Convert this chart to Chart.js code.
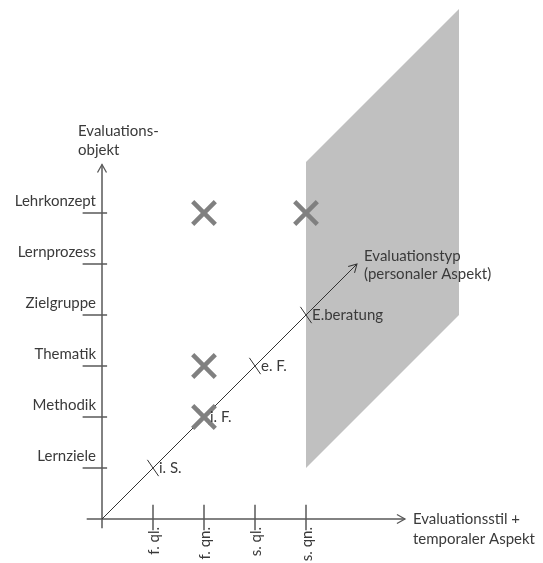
<!DOCTYPE html>
<html>
<head>
<meta charset="utf-8">
<title>Evaluationsraum</title>
<script src="https://cdn.jsdelivr.net/npm/chart.js@4"></script>
<style>
  html, body { margin: 0; padding: 0; background: #fff; }
  canvas { display: block; }
</style>
</head>
<body>
<canvas id="evalChart" width="543" height="563"></canvas>
<script>
// categories on the three axes (position = index + 1)
var objektLabels = ["Lernziele", "Methodik", "Thematik", "Zielgruppe", "Lernprozess", "Lehrkonzept"];
var stilLabels = ["f. ql.", "f. qn.", "s. ql.", "s. qn."];
var typLabels = ["i. S.", "i. F.", "e. F.", "E.beratung"];

// marked combinations (stil, objekt)
var markX = [2, 4, 2, 2];
var markY = [6, 6, 3, 2];

// grey plane at s. qn.
var planeX = [4, 4, 7, 7];
var planeY = [1, 7, 10, 4];

// axis ends
var xAxisEnd = 5.94;
var yAxisEnd = 6.95;
var typAxisEnd = 5;

var lineColor = "#595959";
var textColor = "#3a3a3a";
var font = "15px Lato";

function pts(xs, ys) {
  return xs.map(function (x, i) { return { x: x, y: ys[i] }; });
}

// ticks as short segments separated by gaps
var yTicks = [], xTicks = [], typTicks = [];
objektLabels.forEach(function (l, i) {
  var v = i + 1;
  yTicks.push({ x: -0.38, y: v }, { x: 0.1, y: v }, { x: null, y: null });
});
stilLabels.forEach(function (l, i) {
  var v = i + 1;
  xTicks.push({ x: v, y: 0.28 }, { x: v, y: -0.22 }, { x: null, y: null });
});
typLabels.forEach(function (l, i) {
  var v = i + 1;
  typTicks.push({ x: v - 0.11, y: v + 0.16 }, { x: v + 0.11, y: v - 0.16 }, { x: null, y: null });
});

function arrowHead(ctx, x, y, angle, color, width) {
  ctx.save();
  ctx.translate(x, y);
  ctx.rotate(angle);
  ctx.strokeStyle = color;
  ctx.lineWidth = width;
  ctx.beginPath();
  ctx.moveTo(-8, -4.5);
  ctx.lineTo(0, 0);
  ctx.lineTo(-8, 4.5);
  ctx.stroke();
  ctx.restore();
}

var labelsPlugin = {
  id: "labelsPlugin",
  afterDatasetsDraw: function (chart) {
    var ctx = chart.ctx;
    var xs = chart.scales.x, ys = chart.scales.y;
    ctx.save();
    ctx.fillStyle = textColor;
    ctx.font = font;

    // arrows
    arrowHead(ctx, xs.getPixelForValue(xAxisEnd), ys.getPixelForValue(0), 0, lineColor, 1.3);
    arrowHead(ctx, xs.getPixelForValue(0), ys.getPixelForValue(yAxisEnd), -Math.PI / 2, lineColor, 1.3);
    arrowHead(ctx, xs.getPixelForValue(typAxisEnd), ys.getPixelForValue(typAxisEnd), -Math.PI / 4, "#333", 1);

    // Evaluationsobjekt labels
    ctx.textAlign = "right";
    ctx.textBaseline = "alphabetic";
    objektLabels.forEach(function (l, i) {
      ctx.fillText(l, xs.getPixelForValue(0) - 6, ys.getPixelForValue(i + 1) - 7);
    });

    // Evaluationstyp labels
    ctx.textAlign = "left";
    ctx.textBaseline = "middle";
    typLabels.forEach(function (l, i) {
      ctx.fillText(l, xs.getPixelForValue(i + 1) + 6, ys.getPixelForValue(i + 1));
    });

    // Evaluationsstil labels, rotated
    stilLabels.forEach(function (l, i) {
      ctx.save();
      ctx.translate(xs.getPixelForValue(i + 1) + 1, ys.getPixelForValue(0) + 8);
      ctx.rotate(-Math.PI / 2);
      ctx.textAlign = "right";
      ctx.textBaseline = "middle";
      ctx.fillText(l, 0, 0);
      ctx.restore();
    });

    // axis titles
    var yx = xs.getPixelForValue(0), yy = ys.getPixelForValue(yAxisEnd);
    ctx.textAlign = "left";
    ctx.fillText("Evaluations-", yx - 24, yy - 33);
    ctx.fillText("objekt", yx - 24, yy - 14);

    var xx = xs.getPixelForValue(xAxisEnd), xy = ys.getPixelForValue(0);
    ctx.fillText("Evaluationsstil +", xx + 8, xy);
    ctx.fillText("temporaler Aspekt", xx + 8, xy + 20);

    var tx = xs.getPixelForValue(typAxisEnd), ty = ys.getPixelForValue(typAxisEnd);
    ctx.fillText("Evaluationstyp", tx + 7, ty - 8);
    ctx.fillText("(personaler Aspekt)", tx + 7, ty + 10);
    ctx.restore();
  }
};

function segs(data, color, width, order) {
  return {
    type: "line",
    data: data,
    borderColor: color,
    borderWidth: width,
    pointRadius: 0,
    fill: false,
    spanGaps: false,
    clip: false,
    order: order
  };
}

new Chart(document.getElementById("evalChart").getContext("2d"), {
  type: "scatter",
  data: {
    datasets: [
      {
        type: "scatter",
        data: pts(markX, markY),
        pointStyle: "crossRot",
        pointRadius: 16,
        pointHoverRadius: 16,
        borderColor: "#808080",
        borderWidth: 4.5,
        clip: false,
        order: 0
      },
      segs([{ x: 0, y: 0 }, { x: typAxisEnd, y: typAxisEnd }], "#333", 1, 1),
      segs(typTicks, "#333", 1, 1),
      segs([{ x: -0.3, y: 0 }, { x: xAxisEnd, y: 0 }], lineColor, 1.5, 2),
      segs([{ x: 0, y: -0.18 }, { x: 0, y: yAxisEnd }], lineColor, 1.5, 2),
      segs(yTicks, lineColor, 1.5, 2),
      segs(xTicks, lineColor, 1.5, 2),
      {
        type: "line",
        data: pts(planeX, planeY),
        borderWidth: 0,
        borderColor: "rgba(0,0,0,0)",
        backgroundColor: "#c0c0c0",
        pointRadius: 0,
        fill: "shape",
        clip: false,
        order: 10
      }
    ]
  },
  options: {
    responsive: false,
    animation: false,
    layout: { autoPadding: false, padding: { left: 102, right: 33, top: 9, bottom: 44 } },
    plugins: { legend: { display: false }, tooltip: { enabled: false } },
    scales: {
      x: { type: "linear", min: 0, max: 8, display: false },
      y: { type: "linear", min: 0, max: 10, display: false }
    }
  },
  plugins: [labelsPlugin]
});
</script>
</body>
</html>
